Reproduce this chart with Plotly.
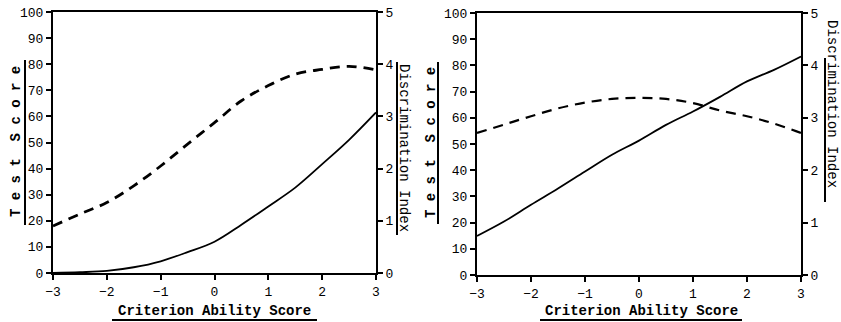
import plotly.graph_objects as go

W, H = 841, 322

# ---- data ----
ability = [-3, -2.5, -2, -1.5, -1, -0.5, 0, 0.5, 1, 1.5, 2, 2.5, 3]

left_test_score = [0, 0.3, 0.8, 2.2, 4.5, 8, 12, 18.5, 25.5, 32.7, 41.7, 51, 61.5]
left_discrimination = [0.9, 1.13, 1.35, 1.67, 2.05, 2.47, 2.88, 3.3, 3.59, 3.81, 3.9, 3.96, 3.89]

right_test_score = [14.9, 20.4, 26.8, 33, 39.5, 45.9, 51.3, 57.3, 62.4, 68, 73.9, 78.3, 83.4]
right_discrimination = [2.71, 2.87, 3.03, 3.18, 3.29, 3.36, 3.38, 3.36, 3.28, 3.14, 3.03, 2.89, 2.71]

x_ticks = [-3, -2, -1, 0, 1, 2, 3]
score_ticks = [0, 10, 20, 30, 40, 50, 60, 70, 80, 90, 100]
index_ticks = [0, 1, 2, 3, 4, 5]

FONT = "Liberation Mono, Courier New, monospace"


def px(x):
    return x / W


def py(y):
    return 1 - y / H


fig = go.Figure()

fig.add_trace(go.Scatter(x=ability, y=left_test_score, mode="lines",
                         line=dict(color="black", width=1.8, shape="spline"),
                         xaxis="x", yaxis="y", showlegend=False))
fig.add_trace(go.Scatter(x=ability, y=left_discrimination, mode="lines",
                         line=dict(color="black", width=2.8, shape="spline", dash="10px,7px"),
                         xaxis="x", yaxis="y2", showlegend=False))
fig.add_trace(go.Scatter(x=ability, y=right_test_score, mode="lines",
                         line=dict(color="black", width=1.8, shape="spline"),
                         xaxis="x2", yaxis="y3", showlegend=False))
fig.add_trace(go.Scatter(x=ability, y=right_discrimination, mode="lines",
                         line=dict(color="black", width=2.2, shape="spline", dash="10px,7px"),
                         xaxis="x2", yaxis="y4", showlegend=False))

tickfont = dict(family=FONT, size=13, color="black")
axis_common = dict(showgrid=False, zeroline=False, showline=True, linecolor="black",
                   linewidth=2, ticks="outside", ticklen=5, tickwidth=1.5,
                   tickcolor="black", tickfont=tickfont, automargin=False)

L_dom_x = [px(53), px(376)]
L_dom_y = [py(273), py(12)]
R_dom_x = [px(477), px(801)]
R_dom_y = [py(275), py(13)]

fig.update_layout(
    width=W, height=H,
    margin=dict(l=0, r=0, t=0, b=0, autoexpand=False),
    paper_bgcolor="white", plot_bgcolor="white",
    xaxis=dict(domain=L_dom_x, anchor="y", range=[-3, 3], tickvals=x_ticks,
               mirror=True, **axis_common),
    yaxis=dict(domain=L_dom_y, anchor="x", range=[0, 100], tickvals=score_ticks,
               side="left", **axis_common),
    yaxis2=dict(domain=L_dom_y, anchor="x", overlaying="y", range=[0, 5],
                tickvals=index_ticks, side="right", **axis_common),
    xaxis2=dict(domain=R_dom_x, anchor="y3", range=[-3, 3], tickvals=x_ticks,
                mirror=True, **axis_common),
    yaxis3=dict(domain=R_dom_y, anchor="x2", range=[0, 100], tickvals=score_ticks,
                side="left", **axis_common),
    yaxis4=dict(domain=R_dom_y, anchor="x2", overlaying="y3", range=[0, 5],
                tickvals=index_ticks, side="right", **axis_common),
)

title_font = dict(family=FONT, size=14, color="black")
annotations = [
    dict(text="<b>T e s t  S c o r e</b>", x=px(16), y=py(142), textangle=-90),
    dict(text="Discrimination Index", x=px(404), y=py(148), textangle=90),
    dict(text="<b>T e s t  S c o r e</b>", x=px(431), y=py(143), textangle=-90),
    dict(text="Discrimination Index", x=px(832), y=py(104), textangle=90),
    dict(text="<b>Criterion Ability Score</b>", x=px(214), y=py(311), textangle=0),
    dict(text="<b>Criterion Ability Score</b>", x=px(641), y=py(311), textangle=0),
]
fig.update_layout(annotations=[
    dict(a, xref="paper", yref="paper", showarrow=False, xanchor="center",
         yanchor="middle", font=title_font, borderpad=0) for a in annotations
])

lines = [
    (25, 60, 25, 225),
    (397, 62, 397, 235),
    (438, 62, 438, 224),
    (825, 58, 825, 202),
    (112, 320, 317, 320),
    (540, 320, 742, 320),
]
fig.update_layout(shapes=[
    dict(type="line", xref="paper", yref="paper", x0=px(a), y0=py(b), x1=px(c), y1=py(d),
         line=dict(color="black", width=2)) for a, b, c, d in lines
])

fig.write_html("out.html", config={"displayModeBar": False},
               post_script="document.body.style.margin='0';document.body.style.overflow='hidden';")
